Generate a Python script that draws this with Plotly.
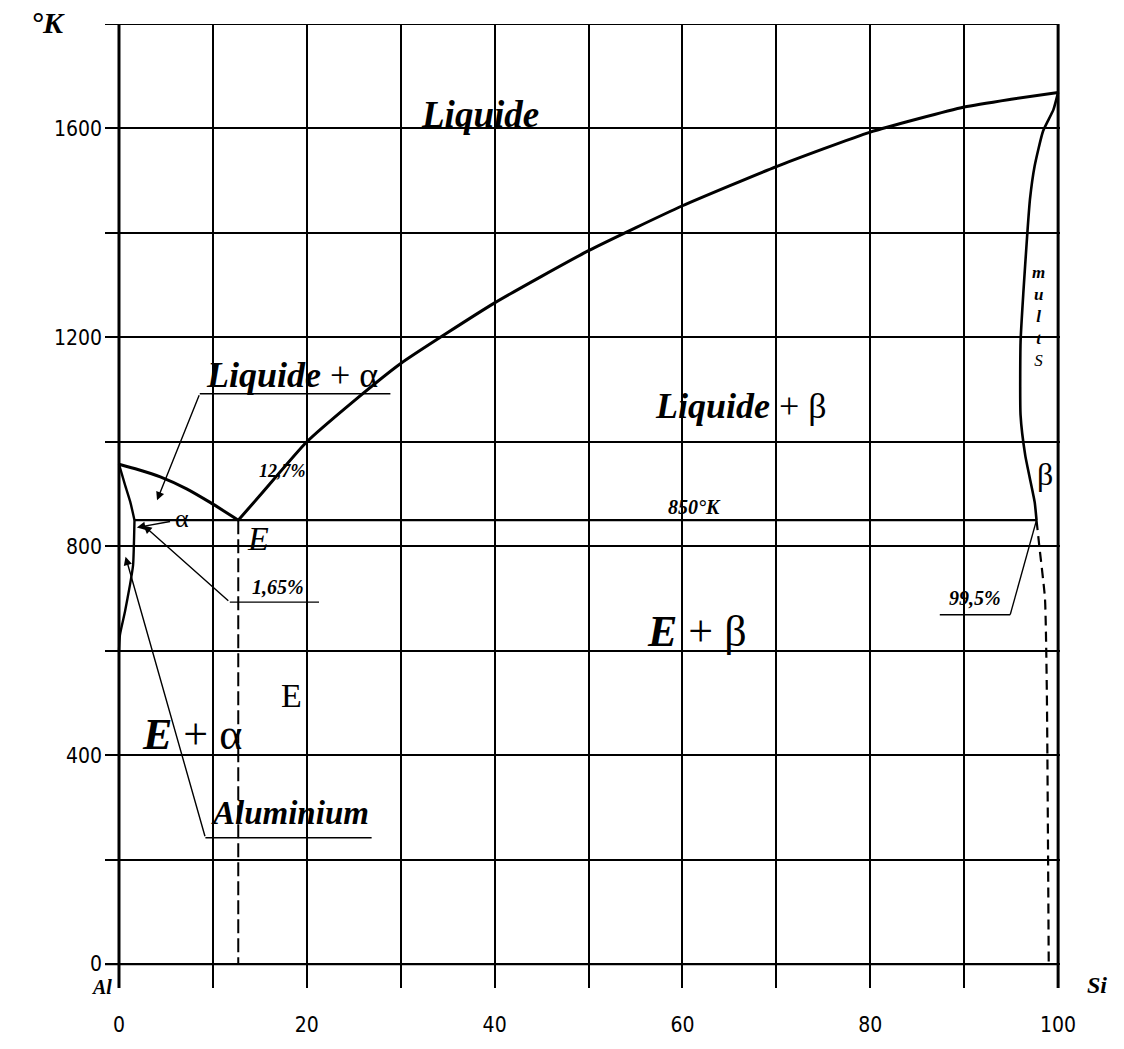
import plotly.graph_objects as go

# ---- phase boundaries of the Al-Si system (composition in % Si, temperature in K) ----
al_liquidus_x = [0, 2.0, 4.4, 7.2, 9.7, 12.7]
al_liquidus_y = [957, 947, 933, 910, 884, 850]

si_liquidus_x = [12.7, 15, 20, 25, 30, 40, 50, 60, 70, 80, 90, 95, 100]
si_liquidus_y = [850, 897, 1000, 1078, 1150, 1266, 1366, 1452, 1527, 1593, 1641, 1656, 1669]

alpha_solidus_x = [0, 0.6, 1.2, 1.65]
alpha_solidus_y = [957, 920, 885, 850]

alpha_solvus_x = [1.65, 1.5, 1.17, 0.64, 0.1, 0]
alpha_solvus_y = [850, 764, 726, 675, 630, 600]

beta_solidus_x = [100, 99.5, 98.4, 97.5, 97.0, 96.7, 96.3, 96.0, 96.0, 96.5, 97.5, 97.7]
beta_solidus_y = [1669, 1636, 1595, 1528, 1464, 1394, 1286, 1191, 1051, 974, 885, 850]

beta_solvus_x = [97.7, 98.0, 98.6, 98.8, 99.0]
beta_solvus_y = [850, 800, 700, 520, 0]

eutectic_T = 850
eutectic_x = 12.7
alpha_limit = 1.65
beta_limit = 97.7

x_ticks = [0, 10, 20, 30, 40, 50, 60, 70, 80, 90, 100]
x_tick_text = ["0", "", "20", "", "40", "", "60", "", "80", "", "100"]
y_ticks = [0, 200, 400, 600, 800, 1000, 1200, 1400, 1600, 1800]
y_tick_text = ["0", "", "400", "", "800", "", "1200", "", "1600", ""]

SERIF = "Liberation Serif, Times New Roman, serif"
TICK_FONT = "Liberation Sans Narrow, Arial Narrow, DejaVu Sans Condensed, sans-serif"
INK = "black"

fig = go.Figure()


def curve(xs, ys, width=2.6, dash=None):
    fig.add_trace(go.Scatter(
        x=xs, y=ys, mode="lines", hoverinfo="skip", showlegend=False,
        line=dict(color=INK, width=width, dash=dash, shape="spline", smoothing=0.5),
    ))


# boundaries
curve(al_liquidus_x, al_liquidus_y, 3)
curve(si_liquidus_x, si_liquidus_y, 3)
curve(alpha_solidus_x, alpha_solidus_y, 2.4)
curve(alpha_solvus_x, alpha_solvus_y, 2.4)
curve(beta_solidus_x, beta_solidus_y, 2.6)
curve(beta_solvus_x, beta_solvus_y, 2.2, dash="10px,6px")
# eutectic horizontal and eutectic composition
curve([alpha_limit, beta_limit], [eutectic_T, eutectic_T], 2.2)
curve([eutectic_x, eutectic_x], [eutectic_T, 0], 2.0, dash="14px,5px")


# leader lines (thin)
def leader(xs, ys):
    fig.add_trace(go.Scatter(
        x=xs, y=ys, mode="lines", hoverinfo="skip", showlegend=False,
        line=dict(color=INK, width=1.4),
    ))


def arrow(x_tip, y_tip, x_tail, y_tail):
    fig.add_annotation(
        x=x_tip, y=y_tip, ax=x_tail, ay=y_tail, xref="x", yref="y",
        axref="x", ayref="y", text="", showarrow=True,
        arrowhead=2, arrowsize=1.2, arrowwidth=1.4, arrowcolor=INK,
    )


leader([28.9, 8.6], [1092, 1092])
arrow(4.05, 888, 8.6, 1092)

arrow(1.9, 836, 5.6, 848)

leader([11.8, 21.3], [693, 693])
arrow(2.6, 840, 11.8, 693)

leader([9.2, 26.9], [242, 242])
arrow(0.7, 780, 9.2, 242)

leader([87.4, 94.9], [669, 669])
leader([94.9, beta_limit], [669, eutectic_T])


def label(x, y, text, size, anchor="center", ref="data"):
    xr, yr = ("x", "y") if ref == "data" else ("paper", "paper")
    fig.add_annotation(
        x=x, y=y, xref=xr, yref=yr, text=text, showarrow=False,
        xanchor=anchor, yanchor="middle",
        font=dict(family=SERIF, size=size, color=INK),
    )


label(38.4, 1627, "<b><i>Liquide</i></b>", 37)
label(9.0, 1127, "<b><i>Liquide</i></b> + α", 36, anchor="left")
label(56.9, 1069, "<b><i>Liquide</i></b> + β", 36, anchor="left")
label(56.0, 636, "<b><i>E</i></b> + β", 44, anchor="left")
label(2.2, 439, "<b><i>E</i></b> + α", 44, anchor="left")
label(18.4, 514, "E", 34)
label(14.8, 815, "<i>E</i>", 34)
label(98.6, 939, "β", 32)
label(6.7, 854, "α", 26)
label(61.3, 875, "<b><i>850°K</i></b>", 20)
label(17.4, 945, "<b><i>12,7%</i></b>", 18)
label(16.9, 722, "<b><i>1,65%</i></b>", 20)
label(91.1, 701, "<b><i>99,5%</i></b>", 20)
label(18.2, 290, "<b><i>Aluminium</i></b>", 33)
label(97.9, 1240, "<b><i>m<br>u<br>l<br>t</i></b><br><i>S</i>", 17)
# axis captions placed in the margins
label(-0.0597, 1.002, "<b><i>°K</i></b>", 30, ref="paper")
label(-0.004, 0.001, "<b><i>Al</i></b>", 20, ref="paper")
label(1.0387, 0.003, "<b><i>Si</i></b>", 24, ref="paper")

# frame: heavy lines at 0 % and 100 %, base line and top border
for x0, y0, x1, y1, w in [
    (0, -46, 0, 1800, 3),
    (100, -46, 100, 1800, 3),
    (-1.5, 0, 100, 0, 2.2),
    (-1.5, 1800, 100, 1800, 2.2),
]:
    fig.add_shape(type="line", x0=x0, y0=y0, x1=x1, y1=y1, xref="x", yref="y",
                  line=dict(color=INK, width=w))

fig.update_layout(
    width=1124, height=1049,
    margin=dict(l=105, r=64, t=24, b=58),
    paper_bgcolor="white", plot_bgcolor="white",
    showlegend=False,
    xaxis=dict(
        range=[-1.49, 100.2], tickvals=x_ticks, ticktext=x_tick_text,
        showgrid=True, gridcolor=INK, gridwidth=1.5, zeroline=False,
        showline=False, ticks="", ticklabelstandoff=22,
        tickfont=dict(family=TICK_FONT, size=21, color=INK),
    ),
    yaxis=dict(
        range=[-45.8, 1800], tickvals=y_ticks, ticktext=y_tick_text,
        showgrid=True, gridcolor=INK, gridwidth=1.5, zeroline=False,
        showline=False, ticks="", ticklabelstandoff=2,
        tickfont=dict(family=TICK_FONT, size=21, color=INK),
    ),
)

fig.write_html("out.html")
